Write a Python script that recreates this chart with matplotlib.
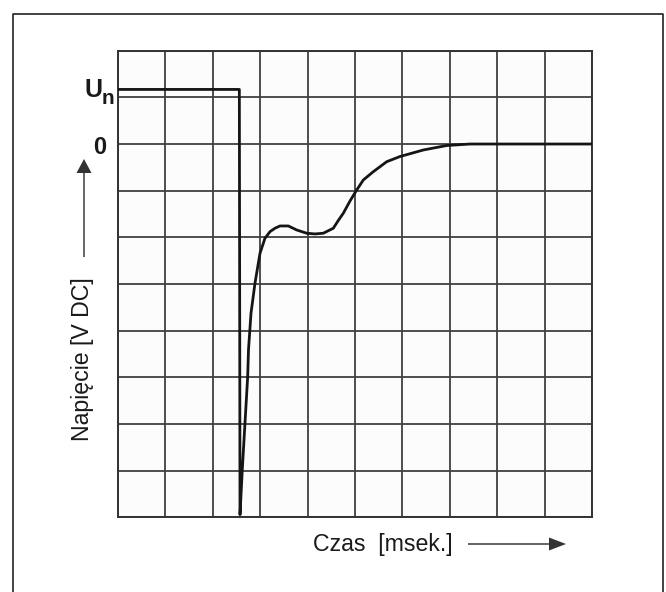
import matplotlib
matplotlib.use("Agg")
import matplotlib.pyplot as plt
from matplotlib.patches import FancyArrow
from matplotlib.lines import Line2D

plt.rcParams['font.family'] = ['Liberation Sans', 'DejaVu Sans']

W, H = 666, 592

# Time axis in grid divisions (10 divisions), voltage in divisions (0 = steady level)
un_level = 1.17
step_end = 2.56

time = [0.0, step_end, 2.574, 2.622, 2.679, 2.736, 2.753, 2.806, 2.890, 2.996,
        3.101, 3.207, 3.312, 3.418, 3.593, 3.770, 3.981, 4.156, 4.331, 4.542,
        4.641, 4.753, 4.895, 5.036, 5.175, 5.386, 5.669, 5.949, 6.441, 6.935,
        7.426, 10.0]
voltage = [un_level, un_level, -7.944, -6.981, -5.981, -4.983, -4.411, -3.625, -2.983, -2.340,
           -2.019, -1.878, -1.805, -1.756, -1.756, -1.842, -1.912, -1.927, -1.912, -1.805,
           -1.649, -1.484, -1.220, -0.985, -0.771, -0.593, -0.379, -0.268, -0.128, -0.032,
           0.0, 0.0]

y_min, y_max = -8, 2
x_min, x_max = 0, 10

y_label = "Napięcie [V DC]"
x_label = "Czas  [msek.]"


def fx(px):
    return px / W


def fy(py):
    return 1 - py / H


fig = plt.figure(figsize=(W / 100, H / 100), dpi=100)

# outer frame (open at the bottom edge)
fig.add_artist(Line2D([fx(13), fx(13), fx(663), fx(663)],
                      [fy(600), fy(14), fy(14), fy(600)],
                      transform=fig.transFigure, color='#222222', lw=1.2))

left, right, top, bottom = 118, 592, 50.7, 517.3
ax = fig.add_axes([fx(left), fy(bottom), fx(right) - fx(left), fy(top) - fy(bottom)])
ax.set_facecolor('#fcfcfc')
ax.set_xlim(x_min, x_max)
ax.set_ylim(y_min, y_max)
ax.set_xticks(range(x_min, x_max + 1))
ax.set_yticks(range(y_min, y_max + 1))
ax.tick_params(length=0, labelbottom=False, labelleft=False)
ax.grid(True, color='#404040', lw=1.3)
for s in ax.spines.values():
    s.set_color('#333333')
    s.set_linewidth(1.4)

ax.plot(time, voltage, color='#151515', lw=2.0, solid_joinstyle='round',
        solid_capstyle='round', zorder=5)

# level labels
fig.text(fx(84.5), fy(97), "U", fontsize=18, fontweight='bold', ha='left',
         va='baseline', color='#1a1a1a')
fig.text(fx(101.5), fy(103.5), "n", fontsize=15, fontweight='bold', ha='left',
         va='baseline', color='#1a1a1a')
fig.text(fx(106.5), fy(154), "0", fontsize=17, fontweight='bold', ha='right',
         va='baseline', color='#1a1a1a')

# axis titles with arrows
fig.text(fx(83), fy(359), y_label, fontsize=16.7, rotation=90, ha='center',
         va='center', color='#1a1a1a')
fig.add_artist(FancyArrow(fx(84), fy(257), 0, fy(159) - fy(257),
                          width=0.0022, head_width=15 / W, head_length=14 / H,
                          length_includes_head=True, transform=fig.transFigure,
                          color='#333333', lw=0))

fig.text(fx(313), fy(545), x_label, fontsize=16.7, ha='left', va='center',
         color='#1a1a1a')
fig.add_artist(FancyArrow(fx(468), fy(544), fx(566) - fx(468), 0,
                          width=0.0025, head_width=13 / H, head_length=17 / W,
                          length_includes_head=True, transform=fig.transFigure,
                          color='#333333', lw=0))

fig.savefig("out.png", dpi=100)
